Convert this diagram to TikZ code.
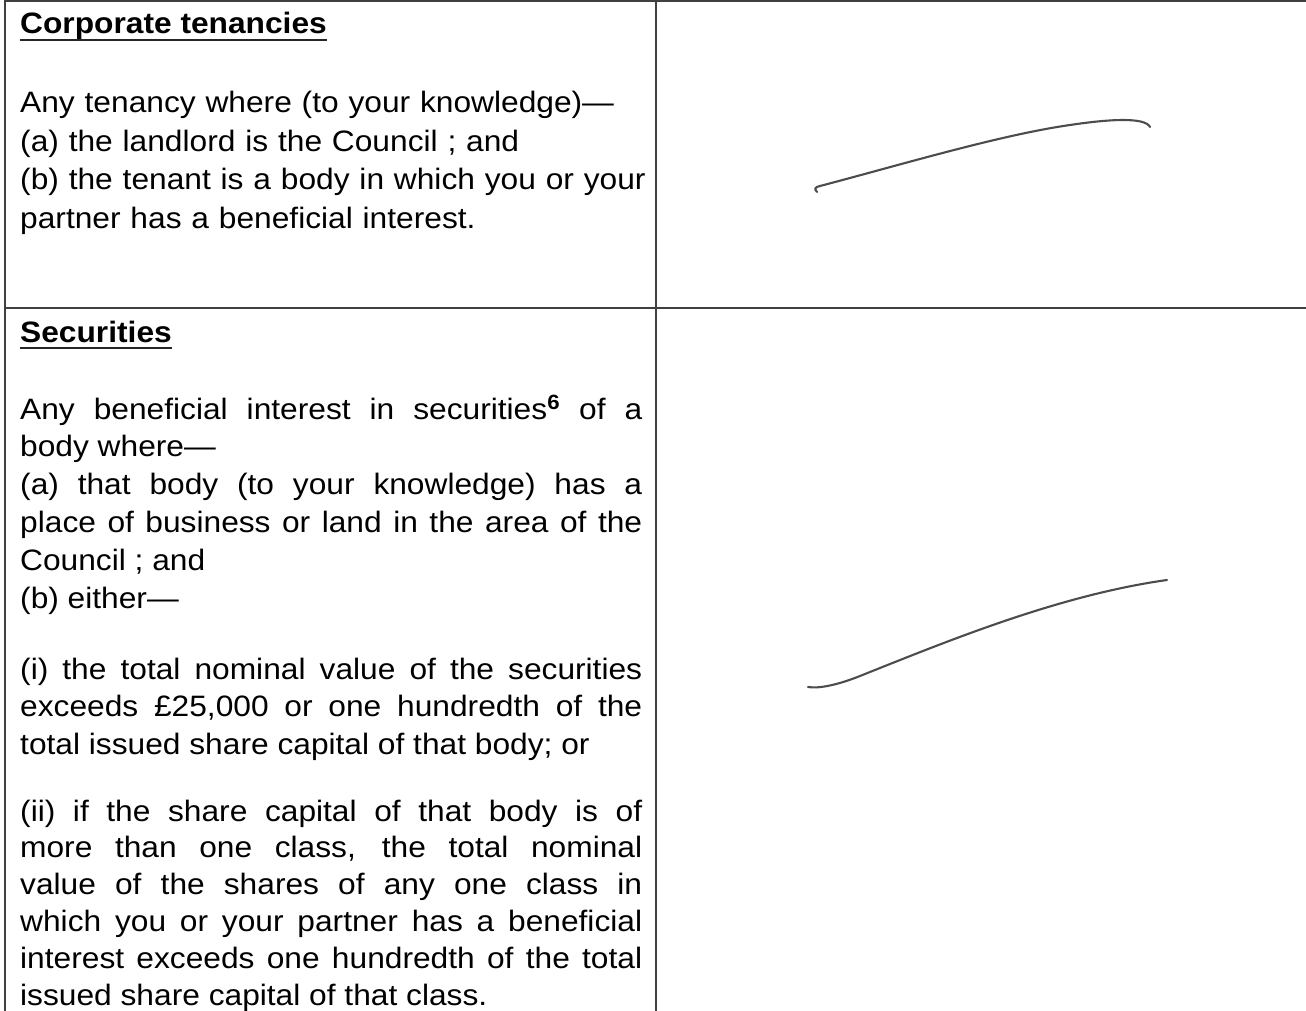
\documentclass[tikz,border=0pt]{standalone}
\usepackage{fontspec}
\setmainfont{Liberation Sans}[FakeStretch=1.075]

\begin{document}
\begin{tikzpicture}[x=1pt,y=-1pt,
	rule/.style={draw=black!75,line width=1.6pt},
	uline/.style={draw=black!85,line width=2.4pt},
	ink/.style={draw=black!70,line width=2.1pt,line cap=round},
	head/.style={anchor=base west,inner sep=0pt,text=black,
		font=\fontsize{29.5pt}{37.8pt}\selectfont\bfseries},
	para/.style={anchor=base west,inner sep=0pt,text=black,text width=622pt,
		align=justify,font=\fontsize{29.5pt}{#1}\selectfont},
	para/.default=37.8pt]
	
	\useasboundingbox (0,0) rectangle (1306,1011);
	
	% table rules
	\draw[rule] (5,0) -- (5,1011);
	\draw[rule] (656,0) -- (656,1011);
	\draw[rule] (5,1) -- (1306,1);
	\draw[rule] (5,308) -- (1306,308);
	
	% first row
	\node[head] (tenhead) at (20,34) {Corporate tenancies};
	\draw[uline] ([yshift=-6pt]tenhead.base west) -- ([yshift=-6pt]tenhead.base east);
	\node[para=38.5pt,align=left,text width=640pt] (tentext) at (20,113)
	{Any tenancy where (to your knowledge)—\\
		(a) the landlord is the Council ; and\\
		(b) the tenant is a body in which you or your\\
		partner has a beneficial interest.};
	
	% second row
	\node[head] (sechead) at (20,342) {Securities};
	\draw[uline] ([yshift=-6pt]sechead.base west) -- ([yshift=-6pt]sechead.base east);
	\node[para] (sectext) at (20,419)
	{Any beneficial interest in securities\textsuperscript{\bfseries 6} of a\linebreak
		body where—\\
		(a) that body (to your knowledge) has a\linebreak
		place of business or land in the area of the\linebreak
		Council ; and\\
		(b) either—};
	\node[para=37.5pt] (secone) at (20,679)
	{(i) the total nominal value of the securities\linebreak
		exceeds £25,000 or one hundredth of the\linebreak
		total issued share capital of that body; or};
	\node[para=36.8pt] (sectwo) at (20,821)
	{(ii) if the share capital of that body is of\linebreak
		more than one class, the total nominal\linebreak
		value of the shares of any one class in\linebreak
		which you or your partner has a beneficial\linebreak
		interest exceeds one hundredth of the total\linebreak
		issued share capital of that class.};
	
	% handwritten strokes
	\draw[ink] (817,192) .. controls (814,189) and (815,187) .. (820,186)
	.. controls (900,165) and (1000,135) .. (1070,125)
	.. controls (1110,119) and (1145,117) .. (1150,127);
	\draw[ink] (808,687) .. controls (820,689) and (840,684) .. (860,676)
	.. controls (950,640) and (1060,595) .. (1167,580);
\end{tikzpicture}
\end{document}
